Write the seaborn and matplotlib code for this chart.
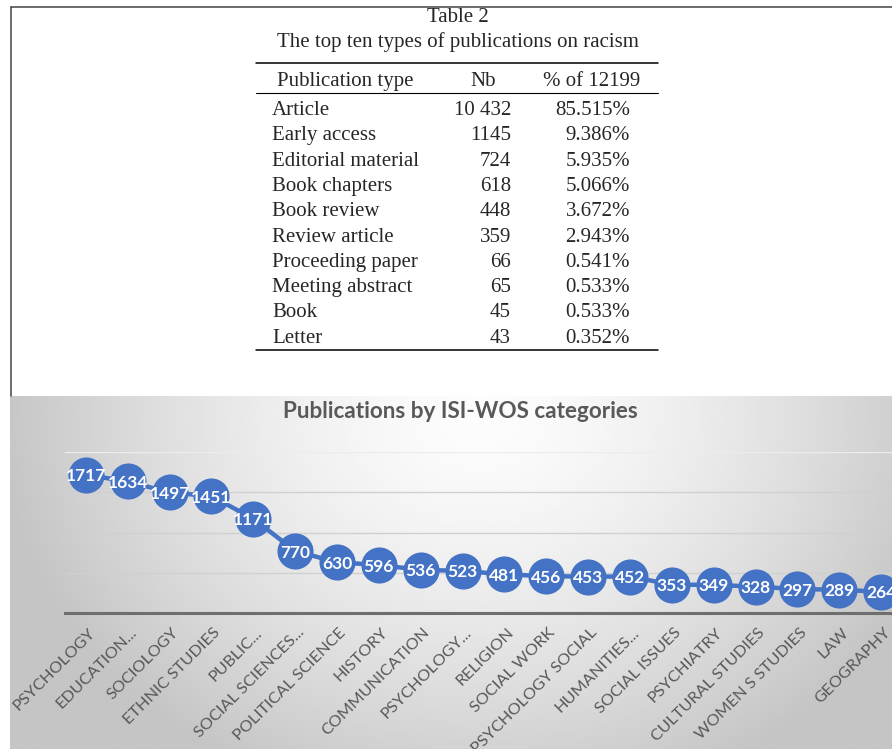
import numpy as np
import pandas as pd
import seaborn as sns
import matplotlib.pyplot as plt
from matplotlib.transforms import ScaledTranslation

# Table 2 data
pub_types = ['Article', 'Early access', 'Editorial material', 'Book chapters', 'Book review',
             'Review article', 'Proceeding paper', 'Meeting abstract', 'Book', 'Letter']
pub_counts = [10432, 1145, 724, 618, 448, 359, 66, 65, 45, 43]
pub_pcts = ['85.515%', '9.386%', '5.935%', '5.066%', '3.672%', '2.943%',
            '0.541%', '0.533%', '0.533%', '0.352%']

# ISI-WOS categories data
categories = ['PSYCHOLOGY', 'EDUCATION...', 'SOCIOLOGY', 'ETHNIC STUDIES', 'PUBLIC...',
              'SOCIAL SCIENCES...', 'POLITICAL SCIENCE', 'HISTORY', 'COMMUNICATION',
              'PSYCHOLOGY...', 'RELIGION', 'SOCIAL WORK', 'PSYCHOLOGY SOCIAL', 'HUMANITIES...',
              'SOCIAL ISSUES', 'PSYCHIATRY', 'CULTURAL STUDIES', 'WOMEN S STUDIES', 'LAW', 'GEOGRAPHY']
cat_counts = [1717, 1634, 1497, 1451, 1171, 770, 630, 596, 536, 523,
              481, 456, 453, 452, 353, 349, 328, 297, 289, 264]

df = pd.DataFrame({'category': categories, 'count': cat_counts})

sns.set_style('white')

W, H = 892, 749
fig = plt.figure(figsize=(W / 100, H / 100), dpi=100)

# full-figure axes in pixel coordinates for the table and the frame
bg = fig.add_axes([0, 0, 1, 1], zorder=0)
bg.axis('off')

# gradient background of the chart picture
gx, gy = np.meshgrid(np.linspace(10, W, 300), np.linspace(396, H, 150))
r = np.sqrt(((gx - 480) / 470) ** 2 + ((gy - 410) / 400) ** 2)
shade = np.clip(0.99 - 0.21 * r ** 1.5, 0.77, 0.99)
bg.imshow(shade, cmap='gray', vmin=0, vmax=1, extent=[10, W, H, 396],
          aspect='auto', interpolation='bilinear')
bg.set_xlim(0, W)
bg.set_ylim(H, 0)

# frame of the table page
bg.plot([11, W], [7, 7], color='#444444', lw=1.1)
bg.plot([11, 11], [7, 396], color='#444444', lw=1.1)

serif = 'Liberation Serif'
fs = 15
bg.text(458, 22, 'Table 2', family=serif, size=fs, ha='center', va='baseline')
bg.text(458, 47, 'The top ten types of publications on racism', family=serif, size=fs,
        ha='center', va='baseline')
bg.plot([256, 658], [63, 63], color='black', lw=1.1)
bg.plot([256, 658], [93, 93], color='black', lw=0.8)
bg.plot([256, 658], [350, 350], color='black', lw=1.1)
bg.text(277, 86, 'Publication type', family=serif, size=fs, ha='left', va='baseline')
bg.text(483, 86, 'Nb', family=serif, size=fs, ha='center', va='baseline')
bg.text(592, 86, '% of 12199', family=serif, size=fs, ha='center', va='baseline')
for i, (t, n, p) in enumerate(zip(pub_types, pub_counts, pub_pcts)):
    yb = 115 + 25.3 * i
    n_txt = f'{n:,}'.replace(',', ' ') if n >= 10000 else str(n)
    bg.text(272, yb, t, family=serif, size=fs, ha='left', va='baseline')
    bg.text(511, yb, n_txt, family=serif, size=fs, ha='right', va='baseline')
    bg.text(630, yb, p, family=serif, size=fs, ha='right', va='baseline')

# chart title
bg.text(460, 411, 'Publications by ISI-WOS categories', family='Lato', weight='bold',
        size=16.2, color='#595959', ha='center', va='center')

# line chart
ax = fig.add_axes([65 / W, (H - 613) / H, 837 / W, 161 / H], zorder=1)
ax.set_facecolor('none')
sns.pointplot(data=df, x='category', y='count', ax=ax, color='#4472C4', markers='o',
              markersize=26, linewidth=3.2, markeredgewidth=0)
for i, v in enumerate(cat_counts):
    ax.text(i, v, str(v), ha='center', va='center_baseline', color='white',
            family='Lato', weight='bold', size=12.5, zorder=5)

ax.set_xlim(-0.5, len(categories) - 0.5)
ax.set_ylim(0, 2000)
ax.set_yticks([0, 500, 1000, 1500, 2000])
ax.set_yticklabels([])
ax.grid(axis='y', color='#D0D0D0', lw=1)
ax.get_ygridlines()[-1].set_color('#ECECEC')
ax.set_axisbelow(True)
for s in ['top', 'left', 'right']:
    ax.spines[s].set_visible(False)
ax.spines['bottom'].set_color('#6E6E6E')
ax.spines['bottom'].set_linewidth(2.2)
ax.set_xlabel('')
ax.set_ylabel('')
ax.tick_params(axis='both', length=0)
ax.tick_params(axis='x', pad=9)
ax.set_xticks(range(len(categories)))
ax.set_xticklabels(categories, rotation=45, ha='right', rotation_mode='anchor',
                   family='Lato', size=11.8, color='#595959')
for lab in ax.get_xticklabels():
    lab.set_transform(lab.get_transform() + ScaledTranslation(0.02, 0, fig.dpi_scale_trans))

fig.savefig('out.png', dpi=100)
